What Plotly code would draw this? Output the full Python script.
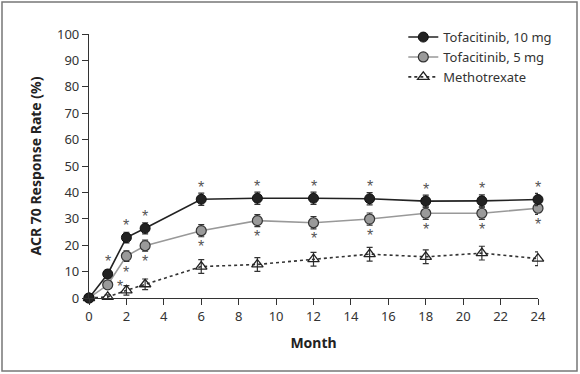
import plotly.graph_objects as go

months = [0, 1, 2, 3, 6, 9, 12, 15, 18, 21, 24]
tofa10 = [0, 9.1, 22.9, 26.4, 37.4, 37.8, 37.8, 37.6, 36.7, 36.8, 37.3]
tofa10_err = [0, 1.5, 2.0, 2.1, 2.3, 2.3, 2.3, 2.3, 2.3, 2.3, 2.3]
tofa5 = [0, 5.0, 15.9, 19.8, 25.5, 29.3, 28.5, 29.9, 32.1, 32.1, 34.0]
tofa5_err = [0, 1.3, 2.0, 2.1, 2.3, 2.3, 2.3, 2.3, 2.3, 2.3, 2.3]
mtx = [0, 0.4, 2.9, 5.2, 11.9, 12.7, 14.7, 16.6, 15.6, 17.0, 14.9]
mtx_err = [0, 0.8, 1.8, 2.0, 2.6, 2.6, 2.6, 2.6, 2.6, 2.6, 2.6]

# significance markers
star10_months = [1, 2, 3, 6, 9, 12, 15, 18, 21, 24]
star5_months = [2, 3, 6, 9, 12, 15, 18, 21, 24]
star5_side_month = 1

xticks = list(range(0, 25, 2))
yticks = list(range(0, 101, 10))

fig = go.Figure()

fig.add_trace(go.Scatter(
    x=months, y=mtx, name="Methotrexate", mode="lines+markers",
    line=dict(color="#333333", width=1.6, dash="dot"),
    marker=dict(symbol="triangle-up-open", size=10, color="#222222", line=dict(width=1.3)),
    error_y=dict(type="data", array=mtx_err, color="#333333", thickness=1.2, width=3),
    cliponaxis=False, legendrank=3,
))
fig.add_trace(go.Scatter(
    x=months, y=tofa5, name="Tofacitinib, 5 mg", mode="lines+markers",
    line=dict(color="#999999", width=1.6),
    marker=dict(symbol="circle", size=10, color="#9a9a9a", line=dict(color="#333333", width=1.2)),
    error_y=dict(type="data", array=tofa5_err, color="#333333", thickness=1.2, width=3),
    cliponaxis=False, legendrank=2,
))
fig.add_trace(go.Scatter(
    x=months, y=tofa10, name="Tofacitinib, 10 mg", mode="lines+markers",
    line=dict(color="#222222", width=1.6),
    marker=dict(symbol="circle", size=10, color="#222222", line=dict(color="#111111", width=1)),
    error_y=dict(type="data", array=tofa10_err, color="#333333", thickness=1.2, width=3),
    cliponaxis=False, legendrank=1,
))

star_font = dict(family="Liberation Sans", size=16, color="#555555")
for m in star10_months:
    v = tofa10[months.index(m)]
    fig.add_annotation(x=m, y=v, text="*", showarrow=False, yshift=12, font=star_font)
for m in star5_months:
    v = tofa5[months.index(m)]
    fig.add_annotation(x=m, y=v, text="*", showarrow=False, yshift=-16, font=star_font)
v = tofa5[months.index(star5_side_month)]
fig.add_annotation(x=star5_side_month, y=v, text="*", showarrow=False, xshift=12, yshift=-2, font=star_font)

font_family = "Noto Sans"
fig.update_layout(
    width=580, height=374,
    margin=dict(l=89, r=42, t=34, b=76),
    paper_bgcolor="white", plot_bgcolor="white",
    font=dict(family=font_family, size=13, color="#333333"),
    showlegend=True,
    legend=dict(x=0.70, y=1.045, xanchor="left", yanchor="top",
                font=dict(size=13, color="#333333"), bgcolor="rgba(0,0,0,0)",
                tracegroupgap=0, itemwidth=30),
    xaxis=dict(range=[0, 24], tickvals=xticks, ticks="outside", ticklen=6, tickwidth=1.2,
               tickcolor="#333333", showline=True, linecolor="#333333", linewidth=1.2,
               showgrid=False, zeroline=False,
               title=dict(text="<b>Month</b>", font=dict(size=14, color="#222222"), standoff=14),
               tickfont=dict(size=13, color="#333333")),
    yaxis=dict(range=[0, 100], tickvals=yticks, ticks="outside", ticklen=6, tickwidth=1.2,
               tickcolor="#333333", showline=True, linecolor="#333333", linewidth=1.2,
               showgrid=False, zeroline=False,
               title=dict(text="<b>ACR 70 Response Rate (%)</b>", font=dict(size=14, color="#222222"), standoff=12),
               tickfont=dict(size=13, color="#333333")),
)

# outer frame
fig.add_shape(type="rect", xref="paper", yref="paper",
              x0=(2 - 89) / 449, x1=(577 - 89) / 449,
              y0=(298 - 371) / 264, y1=(298 - 2) / 264,
              line=dict(color="#777777", width=1.5), fillcolor="rgba(0,0,0,0)", layer="below")

fig.write_html("out.html", config={"displayModeBar": False},
               post_script="document.body.style.margin='0';document.body.style.overflow='hidden';")
